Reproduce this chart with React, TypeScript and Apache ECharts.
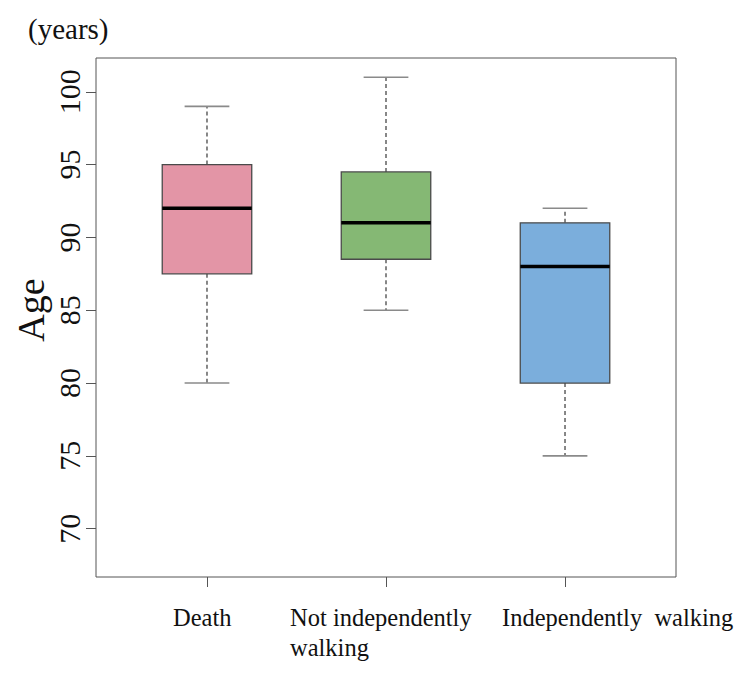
import React, { useEffect, useRef } from "react";
import * as echarts from "echarts";

// Group labels and five-number summaries (years of age)
const categories = ["Death", "Not independently\nwalking", "Independently  walking"];
const whiskerLow = [80, 85, 75];
const lowerQuartile = [87.5, 88.5, 80];
const medians = [92, 91, 88];
const upperQuartile = [95, 94.5, 91];
const whiskerHigh = [99, 101, 92];
const boxColors = ["#E395A6", "#85B874", "#7BAEDC"];
const yTicks = [70, 75, 80, 85, 90, 95, 100];

const FONT = "'Liberation Serif', 'Times New Roman', serif";

export default function App() {
  const ref = useRef<HTMLDivElement>(null);

  useEffect(() => {
    if (!ref.current) return;
    const chart = echarts.init(ref.current, null, { renderer: "svg" });

    const data = categories.map((_, i) => [
      i + 1,
      whiskerLow[i],
      lowerQuartile[i],
      medians[i],
      upperQuartile[i],
      whiskerHigh[i],
    ]);

    const renderItem = (params: any, api: any) => {
      const x = api.value(0);
      const idx = params.dataIndex;
      const pLow = api.coord([x, api.value(1)]);
      const pQ1 = api.coord([x, api.value(2)]);
      const pMed = api.coord([x, api.value(3)]);
      const pQ3 = api.coord([x, api.value(4)]);
      const pHigh = api.coord([x, api.value(5)]);
      const halfBox = api.size([0.5, 0])[0] / 2;
      const halfStaple = api.size([0.25, 0])[0] / 2;
      const cx = pMed[0];
      const whiskerStyle = { stroke: "#555", lineWidth: 1.4, lineDash: [4, 3] };
      const stapleStyle = { stroke: "#8a8a8a", lineWidth: 1.6 };
      return {
        type: "group",
        children: [
          { type: "line", shape: { x1: cx, y1: pQ3[1], x2: cx, y2: pHigh[1] }, style: whiskerStyle },
          { type: "line", shape: { x1: cx, y1: pQ1[1], x2: cx, y2: pLow[1] }, style: whiskerStyle },
          { type: "line", shape: { x1: cx - halfStaple, y1: pHigh[1], x2: cx + halfStaple, y2: pHigh[1] }, style: stapleStyle },
          { type: "line", shape: { x1: cx - halfStaple, y1: pLow[1], x2: cx + halfStaple, y2: pLow[1] }, style: stapleStyle },
          {
            type: "rect",
            shape: { x: cx - halfBox, y: pQ3[1], width: halfBox * 2, height: pQ1[1] - pQ3[1] },
            style: { fill: boxColors[idx], stroke: "#4a4a4a", lineWidth: 1.3 },
          },
          {
            type: "line",
            shape: { x1: cx - halfBox, y1: pMed[1], x2: cx + halfBox, y2: pMed[1] },
            style: { stroke: "#000", lineWidth: 3.5 },
          },
        ],
      };
    };

    const labelLefts = [173, 290, 502];

    chart.setOption({
      animation: false,
      backgroundColor: "#fff",
      grid: {
        left: 96,
        top: 58,
        right: 74,
        bottom: 100,
        show: true,
        borderColor: "#555",
        borderWidth: 1,
        backgroundColor: "transparent",
      },
      xAxis: {
        type: "value",
        min: 0.38,
        max: 3.62,
        axisLine: { show: false },
        axisTick: { show: true, customValues: [1, 2, 3], length: 10, lineStyle: { color: "#555" } },
        axisLabel: { show: false },
        splitLine: { show: false },
      },
      yAxis: {
        type: "value",
        min: 66.68,
        max: 102.32,
        axisLine: { show: false },
        axisTick: { show: true, customValues: yTicks, length: 10, lineStyle: { color: "#555" } },
        axisLabel: {
          customValues: yTicks,
          rotate: 90,
          margin: 12,
          fontSize: 30,
          fontFamily: FONT,
          color: "#111",
        },
        splitLine: { show: false },
      },
      series: [
        {
          type: "custom",
          renderItem,
          data,
          encode: { x: 0, y: [1, 2, 3, 4, 5] },
        },
      ],
      graphic: [
        {
          type: "text",
          left: 28,
          top: 14,
          style: { text: "(years)", fontSize: 29, fontFamily: FONT, fill: "#111" },
        },
        {
          type: "text",
          x: 31,
          y: 310,
          rotation: Math.PI / 2,
          style: {
            text: "Age",
            fontSize: 38,
            fontFamily: FONT,
            fill: "#111",
            align: "center",
            verticalAlign: "middle",
          },
        },
        ...categories.map((c, i) => ({
          type: "text",
          x: labelLefts[i],
          y: 602,
          style: {
            text: c,
            fontSize: 24.5,
            lineHeight: 30,
            fontFamily: FONT,
            fill: "#111",
            align: "left",
            verticalAlign: "top",
          },
        })),
      ],
    });

    return () => chart.dispose();
  }, []);

  return (
    <div
      ref={ref}
      style={{ position: "fixed", left: 0, top: 0, width: 750, height: 677 }}
    />
  );
}
